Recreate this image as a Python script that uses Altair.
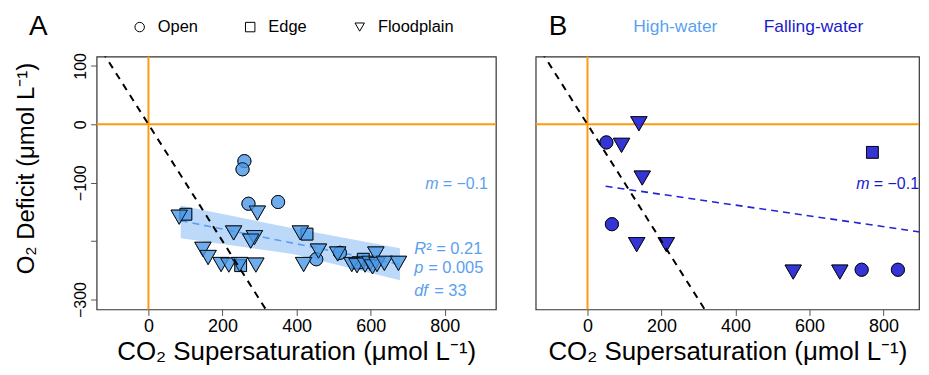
import altair as alt
import pandas as pd

FONT = "Liberation Sans"
LIGHT = "#4a97e6"
LIGHT_TXT = "#5a9ff0"
DARK = "#2424d2"
DARK_TXT = "#1a1acc"
ORANGE = "#ff9a10"

sites = ["Open", "Edge", "Floodplain"]
shapes = ["circle", "square", "triangle-down"]
sizes = [175, 140, 270]

# ---------------- Panel A : High-water ----------------
a_open_x = [259, 254, 270, 350, 453, 517]
a_open_y = [-63, -77, -136, -133, -231, -220]
a_edge_x = [101, 428, 249, 580, 566]
a_edge_y = [-154, -188, -242, -231, -237]
a_flood_x = [83, 294, 230, 286, 276, 410, 147, 161, 196, 217, 246, 290,
             419, 459, 511, 549, 563, 585, 598, 605, 614, 617, 637, 675]
a_flood_y = [-159, -152, -186, -194, -200, -186, -214, -228, -240, -241, -240, -241,
             -240, -217, -222, -240, -242, -241, -238, -244, -222, -240, -238, -238]

# regression (High-water) and its confidence band
a_fit_x = [87, 679]
a_fit_y = [-165, -240]
a_band_x = [87, 390, 679]
a_band_lo = [-195, -222, -267]
a_band_hi = [-139, -178, -212]

# ---------------- Panel B : Falling-water ----------------
b_open_x = [51, 66, 741, 839]
b_open_y = [-31, -171, -249, -249]
b_edge_x = [770]
b_edge_y = [-48]
b_flood_x = [139, 92, 148, 133, 213, 556, 682]
b_flood_y = [1, -36, -92, -206, -206, -253, -253]

b_fit_x = [49, 950]
b_fit_y = [-106, -189]

# 1:1 reference line
ref_x = [-125, 320]
ref_y = [125, -320]

x_ticks = [0, 200, 400, 600, 800]
y_ticks = [100, 0, -100, -200, -300]
XDOM_A = [-140, 938]
XDOM_B = [-140, 896]
YDOM = [-317, 116]
W_A, W_B, H = 401, 385, 254


def pts(ox, oy, ex, ey, fx, fy):
    rows = []
    for xs, ys, s in ((ox, oy, "Open"), (ex, ey, "Edge"), (fx, fy, "Floodplain")):
        for xv, yv in zip(xs, ys):
            rows.append({"x": xv, "y": yv, "site": s})
    return pd.DataFrame(rows)


dfA = pts(a_open_x, a_open_y, a_edge_x, a_edge_y, a_flood_x, a_flood_y)
dfB = pts(b_open_x, b_open_y, b_edge_x, b_edge_y, b_flood_x, b_flood_y)
fitA = pd.DataFrame({"x": a_fit_x, "y": a_fit_y})
fitB = pd.DataFrame({"x": b_fit_x, "y": b_fit_y})
bandA = pd.DataFrame({"x": a_band_x, "lo": a_band_lo, "hi": a_band_hi})
ref = pd.DataFrame({"x": ref_x, "y": ref_y})
zero = pd.DataFrame({"x": [0], "y": [0]})
one = pd.DataFrame({"k": [0]})

XTITLE = "CO\u2082 Supersaturation (\u03bcmol L\u207b\u00b9)"
YTITLE = "O\u2082 Deficit (\u03bcmol L\u207b\u00b9)"

axX = alt.Axis(values=x_ticks, title=XTITLE, grid=False, domain=False, tickSize=6,
               tickColor="#555", tickWidth=1, labelFontSize=18, labelColor="black",
               labelFont=FONT, labelPadding=2, titleFont=FONT, titleFontSize=26,
               titleFontWeight="normal", titleColor="black", titleY=50,
               titleBaseline="alphabetic")
axY = alt.Axis(values=y_ticks, title=YTITLE, grid=False, domain=False, tickSize=6,
               tickColor="#555", tickWidth=1, labelFontSize=16, labelColor="black",
               labelFont=FONT, labelPadding=2, labelAngle=270, labelAlign="center",
               labelBaseline="bottom",
               labelExpr="datum.value == -200 ? '' : datum.label",
               titleFont=FONT, titleFontSize=24, titleFontWeight="normal",
               titleColor="black", titleX=-63, titleY=112, titleAngle=270,
               titleBaseline="alphabetic", titleAlign="center")


def X(dom, field="x"):
    return alt.X(f"{field}:Q", scale=alt.Scale(domain=dom, nice=False, zero=False), axis=axX)


def Y(axis, field="y"):
    return alt.Y(f"{field}:Q", scale=alt.Scale(domain=YDOM, nice=False, zero=False), axis=axis)


def label(text, x, y, color, size, italic=False, align="left", baseline="middle"):
    return alt.Chart(one).mark_text(
        text=text, align=align, baseline=baseline, fontSize=size, color=color,
        font=FONT, fontStyle="italic" if italic else "normal"
    ).encode(x=alt.value(x), y=alt.value(y))


def panel(df, dom, yaxis, fill, fopac, fit, fitcolor, band=None, legend=None):
    layers = []
    if band is not None:
        layers.append(alt.Chart(band).mark_area(color=LIGHT_TXT, opacity=0.4).encode(
            x=X(dom), y=Y(yaxis, "lo"), y2="hi:Q"))
    layers.append(alt.Chart(zero).mark_rule(color=ORANGE, strokeWidth=2).encode(x=X(dom)))
    layers.append(alt.Chart(zero).mark_rule(color=ORANGE, strokeWidth=2).encode(y=Y(yaxis)))
    layers.append(alt.Chart(fit).mark_line(color=fitcolor, strokeDash=[7, 5], strokeWidth=1.6,
                                           clip=True).encode(x=X(dom), y=Y(yaxis)))
    shape_scale = alt.Scale(domain=sites, range=shapes)
    # hollow outlines (drawn first, hidden under the filled symbols) -> hollow legend symbols
    for site, sz in zip(sites, sizes):
        layers.append(alt.Chart(df).transform_filter(
            alt.datum.site == site
        ).mark_point(filled=False, color="black", strokeWidth=0.8, size=sz, opacity=1).encode(
            x=X(dom), y=Y(yaxis),
            shape=alt.Shape("site:N", scale=shape_scale, legend=legend),
        ))
    for site, sz in zip(sites, sizes):
        layers.append(alt.Chart(df).transform_filter(
            alt.datum.site == site
        ).mark_point(
            filled=True, fill=fill, fillOpacity=fopac, stroke="black", strokeWidth=0.8,
            opacity=1, size=sz
        ).encode(
            x=X(dom), y=Y(yaxis),
            shape=alt.Shape("site:N", scale=shape_scale, legend=legend),
        ))
    layers.append(alt.Chart(ref).mark_line(color="black", strokeDash=[7, 6], strokeWidth=2,
                                           clip=True).encode(x=X(dom), y=Y(yaxis)))
    return layers


legA = alt.Legend(title=None, orient="none", legendX=35, legendY=-38, direction="horizontal",
                  columnPadding=44, labelOffset=10, symbolSize=90, symbolFillColor="white",
                  symbolStrokeColor="black", symbolStrokeWidth=1, labelFontSize=16.5,
                  labelFont=FONT, labelColor="black", padding=0)

layersA = panel(dfA, XDOM_A, axY, LIGHT, 0.8, fitA, LIGHT_TXT, band=bandA, legend=legA)
layersA += [
    label("m", 330, 128, LIGHT_TXT, 16, italic=True),
    label("= \u22120.1", 393, 128, LIGHT_TXT, 16, align="right"),
    label("R", 319, 193, LIGHT_TXT, 16.5, italic=True),
    label("\u00b2 = 0.21", 331, 193, LIGHT_TXT, 16.5),
    label("p", 319, 212, LIGHT_TXT, 16.5, italic=True),
    label("= 0.005", 333, 212, LIGHT_TXT, 16.5),
    label("df", 319, 235, LIGHT_TXT, 16.5, italic=True),
    label("= 33", 339, 235, LIGHT_TXT, 16.5),
    label("A", -68, -22, "black", 28, baseline="alphabetic"),
]
chartA = alt.layer(*layersA).properties(width=W_A, height=H)

layersB = panel(dfB, XDOM_B, None, DARK, 0.92, fitB, DARK, legend=None)
layersB += [
    label("m", 322, 128, DARK_TXT, 16, italic=True),
    label("= \u22120.1", 385, 128, DARK_TXT, 16, align="right"),
    label("High-water", 98, -25, LIGHT_TXT, 17.5, baseline="alphabetic"),
    label("Falling-water", 229, -25, DARK_TXT, 17.5, baseline="alphabetic"),
    label("B", 13, -22, "black", 28, baseline="alphabetic"),
]
chartB = alt.layer(*layersB).properties(width=W_B, height=H)

chart = alt.hconcat(chartA, chartB, spacing=36).resolve_scale(
    shape="independent", x="independent", y="independent"
).resolve_legend(shape="independent").properties(
    padding={"left": 6, "top": 3, "right": 0, "bottom": 0}
).configure_view(stroke="#333", strokeWidth=1.2)

chart.save("out.html", embed_options={"renderer": "svg", "actions": False})
